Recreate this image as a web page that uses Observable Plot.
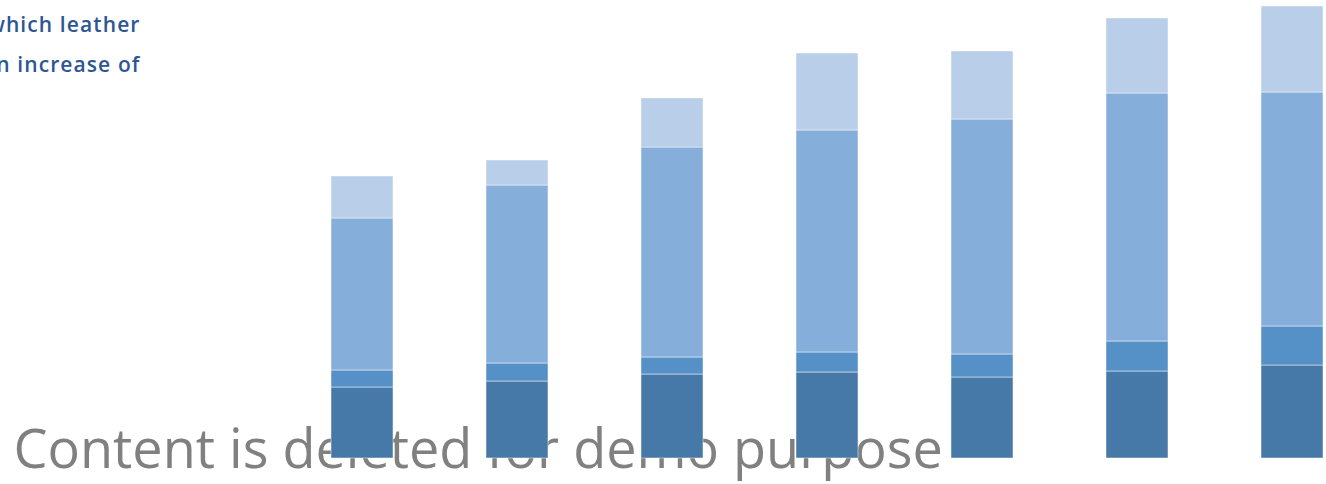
<!DOCTYPE html>
<html>
<head>
<meta charset="utf-8">
<script src="https://cdn.jsdelivr.net/npm/d3@7"></script>
<script src="https://cdn.jsdelivr.net/npm/@observablehq/plot@0.6"></script>
<style>
  html, body { margin: 0; padding: 0; background: #fff; overflow: hidden; }
</style>
</head>
<body>
<div id="chart"></div>
<script>
// Periods along the x axis (labels are not shown on this chart)
const periods = ["P1", "P2", "P3", "P4", "P5", "P6", "P7"];

// Stacked components, bottom to top
const seriesNames = ["Segment A", "Segment B", "Segment C", "Segment D"];
const segmentA = [71, 77, 84, 86, 81, 87, 93];
const segmentB = [17, 18, 17, 20, 23, 30, 39];
const segmentC = [152, 178, 210, 222, 235, 248, 234];
const segmentD = [42, 25, 49, 77, 68, 75, 86];
const seriesColors = ["#4679a8", "#5590c6", "#86aedb", "#b9cee8"];

// Headline text (runs off the left edge) and overlay notice
const headlineLines = ["which leather", "an increase of"];
const notice = ["Content is deleted for demo purpose"];

const seriesValues = [segmentA, segmentB, segmentC, segmentD];
const rows = periods.flatMap((p, i) =>
  seriesNames.map((s, j) => ({ period: p, series: s, value: seriesValues[j][i] }))
);

const W = 1326, H = 484;
const step = 155;
const firstCenter = 362;

const chart = Plot.plot({
  width: W,
  height: H,
  marginTop: 0,
  marginLeft: 0,
  marginRight: 0,
  marginBottom: 26,
  x: {
    domain: periods,
    range: [firstCenter - step / 2, firstCenter - step / 2 + step * periods.length],
    paddingInner: 0.6,
    paddingOuter: 0.3,
    axis: null
  },
  y: { domain: [0, 458], axis: null },
  color: { domain: seriesNames, range: seriesColors },
  marks: [
    Plot.text(notice, {
      frameAnchor: "bottom-left",
      text: d => d,
      dx: 13,
      dy: 9,
      lineAnchor: "bottom",
      textAnchor: "start",
      fontFamily: "Open Sans",
      fontSize: 54,
      fill: "#808080"
    }),
    Plot.barY(rows, {
      x: "period",
      y: "value",
      fill: "series",
      stroke: "#ffffff",
      strokeOpacity: 0.6,
      strokeWidth: 0.8
    }),
    Plot.text(headlineLines, {
      frameAnchor: "top-left",
      text: d => d,
      textAnchor: "end",
      lineAnchor: "bottom",
      fontFamily: "Open Sans",
      fontWeight: 600,
      fontSize: 21,
      fill: "#2e5594",
      render: (index, scales, values, dims, context, next) => {
        const g = next(index, scales, values, dims, context);
        d3.select(g).selectAll("text")
          .attr("letter-spacing", "1.1px")
          .attr("transform", (_, i) => `translate(140,${31 + i * 40})`);
        return g;
      }
    })
  ]
});

document.getElementById("chart").appendChild(chart);
</script>
</body>
</html>
